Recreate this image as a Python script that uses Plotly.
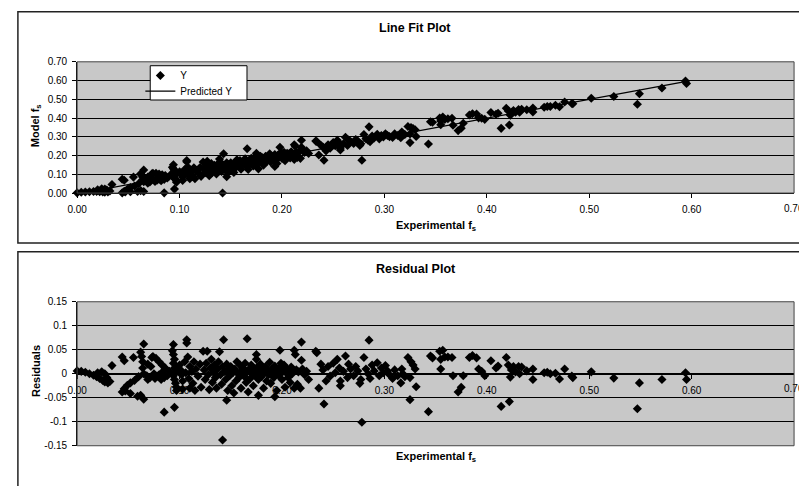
import plotly.graph_objects as go

# ---------------- data ----------------
x_exp = [
    0.000, 0.004, 0.008, 0.012, 0.016, 0.019, 0.022, 0.025, 0.027, 0.030, 0.032, 0.020, 0.024, 0.027, 0.029, 0.034,
    0.044, 0.046, 0.055, 0.065, 0.062, 0.063, 0.064, 0.064, 0.065, 0.060, 0.056, 0.052, 0.049, 0.046, 0.044, 0.047,
    0.052, 0.059, 0.062, 0.065, 0.069, 0.071, 0.073, 0.074, 0.077, 0.080, 0.083, 0.086, 0.069, 0.072, 0.068, 0.075,
    0.078, 0.080, 0.083, 0.085, 0.088, 0.085, 0.090, 0.076, 0.082,
    0.094, 0.093, 0.094, 0.095, 0.094, 0.095, 0.096, 0.094, 0.095, 0.096, 0.097, 0.097, 0.095,
    0.100, 0.101, 0.102, 0.103, 0.103, 0.105, 0.106, 0.107, 0.107, 0.108, 0.109, 0.110, 0.110, 0.112, 0.113, 0.114,
    0.115, 0.116,
    0.118, 0.120, 0.121, 0.123, 0.124, 0.125, 0.126, 0.127, 0.128, 0.129, 0.130, 0.131, 0.132, 0.133, 0.134, 0.135,
    0.136, 0.137, 0.138, 0.139, 0.140, 0.141, 0.142, 0.143, 0.142, 0.144, 0.145, 0.146, 0.146, 0.147, 0.148, 0.149,
    0.150, 0.151, 0.152, 0.153, 0.154, 0.155, 0.156, 0.157, 0.158, 0.159, 0.160, 0.160,
    0.162, 0.163, 0.164, 0.165, 0.166, 0.166, 0.167, 0.168, 0.169, 0.170, 0.171, 0.172, 0.173, 0.174, 0.175, 0.175,
    0.176, 0.177, 0.177, 0.178, 0.179, 0.180, 0.181, 0.182, 0.183, 0.184, 0.185, 0.186, 0.187, 0.188, 0.189, 0.190,
    0.191, 0.192, 0.193, 0.193, 0.194, 0.195, 0.196, 0.197, 0.198, 0.198, 0.199, 0.200, 0.201, 0.202, 0.203, 0.204,
    0.205, 0.206, 0.207, 0.208, 0.209, 0.210, 0.212, 0.213, 0.212, 0.214, 0.215, 0.216, 0.218, 0.219, 0.219, 0.220,
    0.222, 0.224, 0.226,
    0.233, 0.234, 0.236, 0.238, 0.240, 0.241, 0.243, 0.245, 0.247, 0.250, 0.252, 0.254, 0.256, 0.257, 0.257, 0.260,
    0.262, 0.264, 0.265, 0.267, 0.270, 0.272, 0.274, 0.276, 0.277, 0.278, 0.280, 0.282, 0.284, 0.285, 0.286, 0.288,
    0.290, 0.293, 0.295, 0.297, 0.299, 0.301, 0.303, 0.305, 0.308, 0.310,
    0.313, 0.316, 0.317, 0.318, 0.320, 0.323, 0.325, 0.325, 0.326, 0.328, 0.330, 0.331, 0.343, 0.345, 0.347, 0.354,
    0.355, 0.355, 0.357, 0.359, 0.362, 0.366, 0.367, 0.372, 0.375, 0.377, 0.383, 0.386, 0.390, 0.392, 0.395, 0.398,
    0.404, 0.409, 0.411, 0.414, 0.419, 0.421, 0.422, 0.423, 0.424, 0.426, 0.428, 0.431, 0.432, 0.434, 0.439, 0.445,
    0.445,
    0.456, 0.459, 0.462, 0.467, 0.471, 0.476, 0.483, 0.484, 0.502, 0.524, 0.547, 0.549, 0.571, 0.594, 0.595,
]

y_model = [
    0.001, 0.004, 0.006, 0.007, 0.008, 0.008, 0.007, 0.006, 0.005, 0.006, 0.011, 0.017, 0.023, 0.022, 0.016, 0.046,
    0.074, 0.068, 0.085, 0.123, 0.103, 0.095, 0.085, 0.072, 0.061, 0.050, 0.038, 0.029, 0.020, 0.010, 0.001, 0.006,
    0.007, 0.008, 0.013, 0.008, 0.053, 0.059, 0.103, 0.106, 0.105, 0.101, 0.097, 0.094, 0.085, 0.083, 0.060, 0.071,
    0.069, 0.074, 0.082, 0.073, 0.080, 0.001, 0.091, 0.062, 0.066,
    0.151, 0.137, 0.130, 0.121, 0.112, 0.103, 0.096, 0.086, 0.079, 0.072, 0.065, 0.058, 0.021,
    0.114, 0.105, 0.096, 0.084, 0.067, 0.126, 0.104, 0.174, 0.167, 0.139, 0.095, 0.121, 0.076, 0.113, 0.089, 0.135,
    0.076, 0.122,
    0.109, 0.136, 0.089, 0.166, 0.128, 0.109, 0.144, 0.170, 0.122, 0.092, 0.138, 0.157, 0.110, 0.132, 0.148, 0.123,
    0.102, 0.143, 0.159, 0.181, 0.134, 0.115, 0.153, 0.210, 0.000, 0.145, 0.129, 0.087, 0.162, 0.108, 0.152, 0.141,
    0.162, 0.123, 0.151, 0.110, 0.161, 0.137, 0.178, 0.154, 0.147, 0.174, 0.127, 0.162,
    0.171, 0.155, 0.183, 0.144, 0.236, 0.167, 0.126, 0.175, 0.156, 0.185, 0.168, 0.144, 0.178, 0.167, 0.212, 0.202,
    0.187, 0.129, 0.162, 0.179, 0.196, 0.171, 0.188, 0.149, 0.182, 0.196, 0.167, 0.189, 0.182, 0.209, 0.166, 0.197,
    0.188, 0.181, 0.142, 0.206, 0.195, 0.157, 0.201, 0.190, 0.244, 0.207, 0.218, 0.185, 0.203, 0.217, 0.172, 0.203,
    0.212, 0.195, 0.210, 0.187, 0.220, 0.207, 0.258, 0.250, 0.179, 0.219, 0.190, 0.217, 0.185, 0.282, 0.244, 0.227,
    0.217, 0.226, 0.211,
    0.277, 0.275, 0.203, 0.255, 0.245, 0.175, 0.225, 0.257, 0.239, 0.270, 0.252, 0.282, 0.266, 0.230, 0.240, 0.263,
    0.297, 0.254, 0.283, 0.275, 0.264, 0.285, 0.278, 0.254, 0.263, 0.175, 0.312, 0.290, 0.282, 0.353, 0.274, 0.304,
    0.294, 0.314, 0.289, 0.307, 0.299, 0.316, 0.307, 0.301, 0.296, 0.316,
    0.307, 0.295, 0.325, 0.316, 0.312, 0.355, 0.315, 0.269, 0.349, 0.344, 0.338, 0.302, 0.262, 0.380, 0.378, 0.400,
    0.384, 0.364, 0.405, 0.393, 0.396, 0.399, 0.362, 0.333, 0.346, 0.372, 0.416, 0.423, 0.422, 0.401, 0.399, 0.393,
    0.430, 0.420, 0.426, 0.345, 0.452, 0.438, 0.363, 0.415, 0.431, 0.440, 0.431, 0.445, 0.431, 0.447, 0.444, 0.454,
    0.432,
    0.458, 0.462, 0.462, 0.468, 0.460, 0.486, 0.478, 0.476, 0.506, 0.515, 0.474, 0.530, 0.560, 0.597, 0.584,
]

residuals = [
    0.006, 0.005, 0.003, 0.000, -0.003, -0.006, -0.010, -0.014, -0.017, -0.019, -0.016, 0.002, 0.004, 0.000, -0.008, 0.017,
    0.035, 0.027, 0.034, 0.062, 0.045, 0.036, 0.025, 0.012, 0.000, -0.006, -0.014, -0.019, -0.024, -0.031, -0.038, -0.036,
    -0.041, -0.047, -0.045, -0.053, -0.012, -0.008, 0.034, 0.036, 0.032, 0.025, 0.018, 0.012, 0.020, 0.015, -0.004, 0.000,
    -0.005, -0.002, 0.003, -0.008, -0.004, -0.080, 0.005, -0.010, -0.012,
    0.061, 0.048, 0.040, 0.030, 0.022, 0.012, 0.004, -0.004, -0.012, -0.020, -0.028, -0.035, -0.070,
    0.018, 0.008, -0.002, -0.015, -0.032, 0.025, 0.002, 0.071, 0.064, 0.035, -0.010, 0.015, -0.030, 0.005, -0.020, 0.025,
    -0.035, 0.010,
    -0.005, 0.020, -0.028, 0.047, 0.008, -0.012, 0.022, 0.047, -0.002, -0.033, 0.012, 0.030, -0.018, 0.003, 0.018, -0.008,
    -0.030, 0.010, 0.025, 0.046, -0.002, -0.022, 0.015, 0.071, -0.138, 0.005, -0.012, -0.055, 0.020, -0.035, 0.008, -0.004,
    0.015, -0.025, 0.002, -0.040, 0.010, -0.015, 0.025, 0.000, -0.008, 0.018, -0.030, 0.005,
    0.012, -0.005, 0.022, -0.018, 0.073, 0.004, -0.038, 0.010, -0.010, 0.018, 0.000, -0.025, 0.008, -0.004, 0.040, 0.030,
    0.014, -0.045, -0.012, 0.004, 0.020, -0.006, 0.010, -0.030, 0.002, 0.015, -0.015, 0.006, -0.002, 0.024, -0.020, 0.010,
    0.000, -0.008, -0.048, 0.016, 0.004, -0.035, 0.008, -0.004, 0.049, 0.012, 0.022, -0.012, 0.005, 0.018, -0.028, 0.002,
    0.010, -0.008, 0.006, -0.018, 0.014, 0.000, 0.049, 0.040, -0.030, 0.008, -0.022, 0.004, -0.030, 0.066, 0.028, 0.010,
    -0.002, 0.005, -0.012,
    0.047, 0.044, -0.030, 0.020, 0.008, -0.063, -0.015, 0.015, -0.005, 0.022, 0.002, 0.030, 0.012, -0.025, -0.015, 0.005,
    0.037, -0.008, 0.020, 0.010, -0.004, 0.015, 0.006, -0.020, -0.012, -0.101, 0.034, 0.010, 0.000, 0.070, -0.010, 0.018,
    0.006, 0.023, -0.004, 0.012, 0.002, 0.017, 0.006, -0.002, -0.010, 0.008,
    -0.004, -0.019, 0.010, 0.000, -0.006, 0.034, -0.008, -0.054, 0.025, 0.018, 0.010, -0.027, -0.079, 0.037, 0.033, 0.047,
    0.030, 0.010, 0.049, 0.035, 0.035, 0.034, -0.004, -0.038, -0.028, -0.004, 0.034, 0.038, 0.033, 0.010, 0.005, -0.004,
    0.027, 0.012, 0.016, -0.068, 0.034, 0.018, -0.058, -0.007, 0.008, 0.015, 0.004, 0.015, 0.000, 0.014, 0.006, 0.010,
    -0.012,
    0.002, 0.003, 0.000, 0.001, -0.011, 0.010, -0.005, -0.008, 0.004, -0.009, -0.073, -0.019, -0.012, 0.002, -0.012,
]

fit_x = [0.005, 0.595]
fit_y = [0.000, 0.596]

x_tick_vals = [0.0, 0.1, 0.2, 0.3, 0.4, 0.5, 0.6]
x_tick_text = ["0.00", "0.10", "0.20", "0.30", "0.40", "0.50", "0.60"]
x_last_val = 0.7          # last tick, partly cut off by the right edge in the original
x_last_text = "0.70"
top_y_vals = [0.0, 0.1, 0.2, 0.3, 0.4, 0.5, 0.6, 0.7]
top_y_text = ["0.00", "0.10", "0.20", "0.30", "0.40", "0.50", "0.60", "0.70"]
res_y_vals = [-0.15, -0.1, -0.05, 0.0, 0.05, 0.1, 0.15]
res_y_text = ["-0.15", "-0.1", "-0.05", "0", "0.05", "0.1", "0.15"]

# ---------------- layout helpers ----------------
W, H = 799, 486
FONT = "Liberation Sans, Arial, sans-serif"


def fx(p):
    return p / W


def fy(p):
    return 1 - p / H


x_dom = [fx(68), fx(794)]
top_dom = [fy(192), fy(58)]
bot_dom = [fy(450), fy(303)]
res_range = [-0.15, 0.15]
zero_pos = bot_dom[0] + (0 - res_range[0]) / (res_range[1] - res_range[0]) * (bot_dom[1] - bot_dom[0])

marker = dict(symbol="diamond", size=7, color="black", line=dict(width=0))

fig = go.Figure()
fig.add_trace(go.Scatter(x=x_exp, y=y_model, mode="markers", name="Y", marker=marker,
                         cliponaxis=False, xaxis="x", yaxis="y", legend="legend"))
fig.add_trace(go.Scatter(x=fit_x, y=fit_y, mode="lines", name="Predicted Y",
                         line=dict(color="black", width=1.3), xaxis="x", yaxis="y", legend="legend2"))
fig.add_trace(go.Scatter(x=x_exp, y=residuals, mode="markers", name="Residuals", marker=marker,
                         showlegend=False, cliponaxis=False, xaxis="x2", yaxis="y2"))

TICK_SIZE = 10
tickfont = dict(family=FONT, size=TICK_SIZE, color="black")
common_x = dict(range=[0, 0.7], tickvals=x_tick_vals, ticktext=x_tick_text, showgrid=False,
                zeroline=False, showline=True, linecolor="black", linewidth=1, ticks="outside",
                ticklen=4, tickcolor="black", tickfont=tickfont, ticklabelstandoff=3)

legend_common = dict(xanchor="left", yanchor="middle", bgcolor="rgba(0,0,0,0)",
                     borderwidth=0, font=dict(family=FONT, size=10, color="black"),
                     tracegroupgap=0, itemwidth=30)

fig.update_layout(
    width=W, height=H,
    margin=dict(l=0, r=0, t=0, b=0),
    paper_bgcolor="white",
    plot_bgcolor="#c8c8c8",
    font=dict(family=FONT, size=10, color="black"),
    xaxis=dict(domain=x_dom, anchor="y", **common_x),
    yaxis=dict(domain=top_dom, anchor="x", range=[0, 0.7], tickvals=top_y_vals, ticktext=top_y_text,
               showgrid=True, gridcolor="black", gridwidth=1, zeroline=False, showline=True,
               linecolor="black", ticks="outside", ticklen=4, tickcolor="black", tickfont=tickfont,
               ticklabelstandoff=3),
    xaxis2=dict(domain=x_dom, anchor="free", position=zero_pos, **common_x),
    yaxis2=dict(domain=bot_dom, anchor="x2", range=res_range, tickvals=res_y_vals, ticktext=res_y_text,
                showgrid=True, gridcolor="black", gridwidth=1, zeroline=False, showline=True,
                linecolor="black", ticks="outside", ticklen=4, tickcolor="black", tickfont=tickfont,
                ticklabelstandoff=3),
    legend=dict(x=fx(132), y=fy(72), **legend_common),
    legend2=dict(x=fx(132), y=fy(88), **legend_common),
    showlegend=True,
)

ann = [
    dict(text="<b>Line Fit Plot</b>", x=fx(410), y=fy(23), size=12.5, angle=0),
    dict(text="<b>Model f<sub>s</sub></b>", x=fx(27), y=fy(123), size=11, angle=-90),
    dict(text="<b>Experimental f<sub>s</sub></b>", x=fx(431), y=fy(226), size=11, angle=0),
    dict(text="<b>Residual Plot</b>", x=fx(411), y=fy(270), size=12.5, angle=0),
    dict(text="<b>Residuals</b>", x=fx(27), y=fy(374), size=11, angle=-90),
    dict(text="<b>Experimental f<sub>s</sub></b>", x=fx(431), y=fy(462), size=11, angle=0),
]
for a in ann:
    fig.add_annotation(text=a["text"], x=a["x"], y=a["y"], xref="paper", yref="paper",
                       showarrow=False, textangle=a["angle"], xanchor="center", yanchor="middle",
                       font=dict(family=FONT, size=a["size"], color="black"))

# last x tick label (0.70), cut by the window edge as in the original
fig.add_annotation(text=x_last_text, x=x_last_val, xref="x", y=top_dom[0], yref="paper",
                   yshift=-15, showarrow=False, xanchor="center", yanchor="middle", font=tickfont)
fig.add_annotation(text=x_last_text, x=x_last_val, xref="x2", y=zero_pos, yref="paper",
                   yshift=-15, showarrow=False, xanchor="center", yanchor="middle", font=tickfont)

# chart-area frames
fig.add_shape(type="rect", xref="paper", yref="paper", x0=fx(8), x1=1.02, y0=fy(243), y1=fy(7),
              line=dict(color="#222", width=1.5))
fig.add_shape(type="rect", xref="paper", yref="paper", x0=fx(8), x1=1.02, y0=-0.02, y1=fy(252),
              line=dict(color="#222", width=1.5))
# plot-area frames
fig.add_shape(type="rect", xref="paper", yref="paper", x0=x_dom[0], x1=x_dom[1], y0=top_dom[0], y1=top_dom[1],
              line=dict(color="#444", width=1))
fig.add_shape(type="rect", xref="paper", yref="paper", x0=x_dom[0], x1=x_dom[1], y0=bot_dom[0], y1=bot_dom[1],
              line=dict(color="#444", width=1))
# legend box
fig.add_shape(type="rect", xref="paper", yref="paper", x0=fx(142), x1=fx(240), y0=fy(97), y1=fy(62),
              line=dict(color="black", width=1), fillcolor="white", layer="above")

fig.write_html("out.html")
